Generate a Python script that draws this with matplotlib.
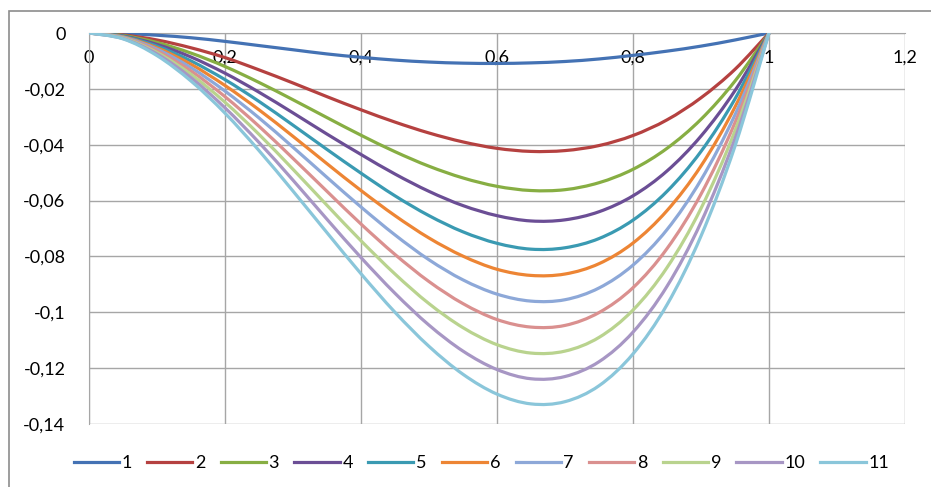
import matplotlib
matplotlib.use('Agg')
import matplotlib.pyplot as plt
from matplotlib.ticker import FuncFormatter, MultipleLocator
from matplotlib.patches import Rectangle, PathPatch
from matplotlib.path import Path
from matplotlib.lines import Line2D

plt.rcParams['font.family'] = ['Lato', 'DejaVu Sans']

# x positions of the read-off points
x = [0, 0.05, 0.1, 0.15, 0.2, 0.25, 0.3, 0.35, 0.4, 0.45, 0.5,
     0.55, 0.6, 0.65, 0.7, 0.75, 0.8, 0.85, 0.9, 0.95, 1]

s1 = [0, -0.0002, -0.0008, -0.0017, -0.0030, -0.0045, -0.0060, -0.0075, -0.0087, -0.0097, -0.0104,
      -0.0108, -0.0109, -0.0107, -0.0102, -0.0093, -0.0080, -0.0065, -0.0047, -0.0025, 0]
s2 = [0, -0.0007, -0.0025, -0.0053, -0.0088, -0.0132, -0.0179, -0.0228, -0.0275, -0.0319, -0.0358,
      -0.0390, -0.0413, -0.0424, -0.0421, -0.0403, -0.0367, -0.0311, -0.0232, -0.0130, 0]
s3 = [0, -0.0009, -0.0034, -0.0072, -0.0120, -0.0177, -0.0239, -0.0303, -0.0366, -0.0425, -0.0477,
      -0.0519, -0.0549, -0.0564, -0.0561, -0.0536, -0.0488, -0.0413, -0.0309, -0.0172, 0]
s4 = [0, -0.0011, -0.0041, -0.0086, -0.0144, -0.0212, -0.0286, -0.0362, -0.0435, -0.0505, -0.0567,
      -0.0618, -0.0654, -0.0673, -0.0669, -0.0640, -0.0583, -0.0494, -0.0369, -0.0206, 0]
s5 = [0, -0.0012, -0.0047, -0.0100, -0.0167, -0.0245, -0.0330, -0.0417, -0.0502, -0.0583, -0.0654,
      -0.0712, -0.0753, -0.0774, -0.0769, -0.0736, -0.0670, -0.0567, -0.0424, -0.0236, 0]
s6 = [0, -0.0014, -0.0053, -0.0112, -0.0188, -0.0275, -0.0370, -0.0468, -0.0564, -0.0654, -0.0734,
      -0.0799, -0.0846, -0.0868, -0.0863, -0.0826, -0.0752, -0.0636, -0.0476, -0.0265, 0]
s7 = [0, -0.0015, -0.0058, -0.0124, -0.0208, -0.0304, -0.0409, -0.0517, -0.0623, -0.0723, -0.0812,
      -0.0884, -0.0935, -0.0960, -0.0955, -0.0913, -0.0831, -0.0704, -0.0526, -0.0293, 0]
s8 = [0, -0.0017, -0.0064, -0.0136, -0.0228, -0.0334, -0.0449, -0.0567, -0.0684, -0.0793, -0.0890,
      -0.0969, -0.1026, -0.1053, -0.1047, -0.1001, -0.0912, -0.0772, -0.0577, -0.0321, 0]
s9 = [0, -0.0018, -0.0070, -0.0148, -0.0248, -0.0363, -0.0488, -0.0617, -0.0744, -0.0863, -0.0969,
      -0.1055, -0.1116, -0.1146, -0.1139, -0.1090, -0.0992, -0.0840, -0.0628, -0.0350, 0]
s10 = [0, -0.0020, -0.0075, -0.0160, -0.0268, -0.0392, -0.0527, -0.0667, -0.0804, -0.0932, -0.1046,
       -0.1139, -0.1205, -0.1238, -0.1230, -0.1177, -0.1071, -0.0907, -0.0678, -0.0378, 0]
s11 = [0, -0.0021, -0.0081, -0.0172, -0.0287, -0.0421, -0.0566, -0.0715, -0.0862, -0.1000, -0.1122,
       -0.1222, -0.1293, -0.1328, -0.1320, -0.1263, -0.1149, -0.0973, -0.0727, -0.0405, 0]

series = [s1, s2, s3, s4, s5, s6, s7, s8, s9, s10, s11]
labels = ['1', '2', '3', '4', '5', '6', '7', '8', '9', '10', '11']
colors = ['#4472B4', '#B54140', '#87AE43', '#6B4E95', '#3A9AB2', '#ED8534',
          '#8DA8D8', '#DA908F', '#B9D38E', '#A796C4', '#8AC6DA']


def smooth_path(xs, ys):
    # Excel-style "smoothed line": bezier segments through the points
    n = len(xs)
    verts = [(xs[0], ys[0])]
    codes = [Path.MOVETO]
    for i in range(n - 1):
        x0, y0 = xs[max(i - 1, 0)], ys[max(i - 1, 0)]
        x1, y1 = xs[i], ys[i]
        x2, y2 = xs[i + 1], ys[i + 1]
        x3, y3 = xs[min(i + 2, n - 1)], ys[min(i + 2, n - 1)]
        c1 = (x1 + (x2 - x0) / 6, y1 + (y2 - y0) / 6)
        c2 = (x2 - (x3 - x1) / 6, y2 - (y3 - y1) / 6)
        verts += [c1, c2, (x2, y2)]
        codes += [Path.CURVE4] * 3
    return Path(verts, codes)


fig = plt.figure(figsize=(9.31, 4.87), dpi=100)
ax = fig.add_axes([89/931, 1 - 424/487, (905 - 89)/931, (424 - 33)/487])

handles = []
for ys, lab, c in zip(series, labels, colors):
    ax.add_patch(PathPatch(smooth_path(x, ys), facecolor='none', edgecolor=c,
                           linewidth=2.3, capstyle='round', joinstyle='round', zorder=3))
    handles.append(Line2D([], [], color=c, linewidth=2.3, label=lab))

ax.set_xlim(0, 1.2)
ax.set_ylim(-0.14, 0)
ax.xaxis.set_major_locator(MultipleLocator(0.2))
ax.yaxis.set_major_locator(MultipleLocator(0.02))

fmt = FuncFormatter(lambda v, p: ('%g' % round(v, 4)).replace('.', ',') if abs(v) > 1e-9 else '0')
ax.xaxis.set_major_formatter(fmt)
ax.yaxis.set_major_formatter(fmt)

ax.grid(True, color='#a6a6a6', linewidth=1.0)
ax.set_axisbelow(True)
for side in ['top', 'right']:
    ax.spines[side].set_visible(False)
ax.spines['bottom'].set_position(('data', 0))
ax.spines['bottom'].set_color('#a6a6a6')
ax.spines['left'].set_color('#a6a6a6')
ax.tick_params(axis='both', length=0, labelsize=13, labelcolor='black')
ax.tick_params(axis='x', pad=12)
ax.tick_params(axis='y', pad=17)

fig.legend(handles=handles, loc='center', bbox_to_anchor=(0.517, 0.049), ncol=11, frameon=False,
           fontsize=13, handlelength=2.5, handletextpad=0.15, columnspacing=0.85)

# outer chart frame
fig.patches.append(Rectangle((9/931, -0.1), 2, 1 - 11/487 + 0.1, transform=fig.transFigure,
                             fill=False, edgecolor='#8c8c8c', linewidth=1.2))

fig.savefig('out.png', dpi=100)
